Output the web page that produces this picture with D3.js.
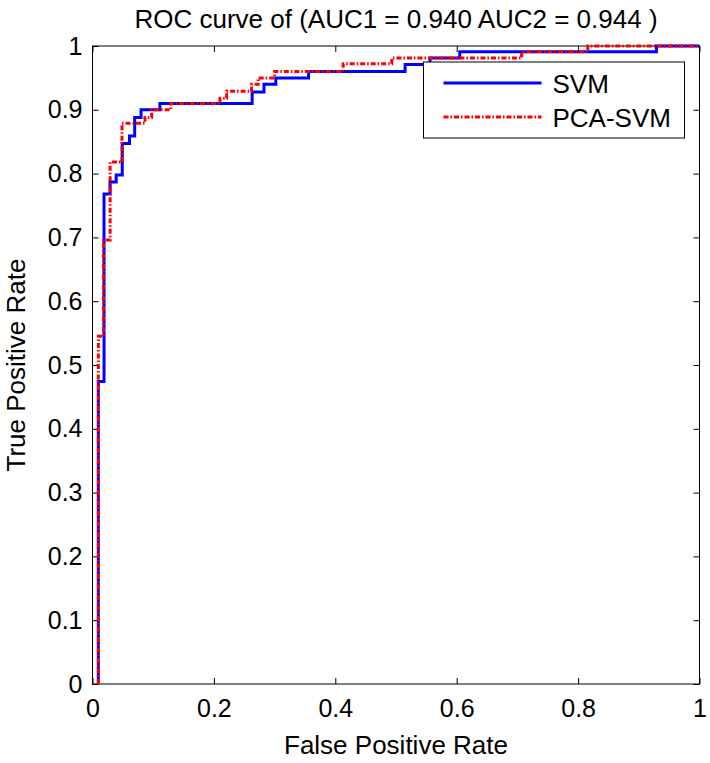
<!DOCTYPE html>
<html>
<head>
<meta charset="utf-8">
<script src="https://cdn.jsdelivr.net/npm/d3@7"></script>
<style>
  body { margin: 0; background: #fff; }
  text { font-family: "Liberation Sans", Arial, sans-serif; fill: #000; }
</style>
</head>
<body>
<svg id="chart" width="710" height="763"></svg>
<script>
// ROC step corners (fpr, tpr)
const svmFpr = [0.0096, 0.0096, 0.019, 0.029, 0.039, 0.049, 0.061, 0.0695, 0.080, 0.111, 0.263, 0.2825, 0.302, 0.356, 0.515, 0.556, 0.605, 0.929, 1];
const svmTpr = [0, 0.474, 0.768, 0.787, 0.798, 0.847, 0.859, 0.888, 0.900, 0.910, 0.928, 0.940, 0.950, 0.960, 0.971, 0.981, 0.991, 1, 1];
const pcaFpr = [0.0096, 0.0096, 0.018, 0.029, 0.0486, 0.0865, 0.0975, 0.129, 0.210, 0.221, 0.262, 0.273, 0.300, 0.413, 0.493, 0.707, 0.816, 1];
const pcaTpr = [0, 0.545, 0.696, 0.818, 0.879, 0.888, 0.900, 0.910, 0.918, 0.929, 0.940, 0.950, 0.960, 0.972, 0.981, 0.991, 1, 1];

const xTicks = [0, 0.2, 0.4, 0.6, 0.8, 1];
const yTicks = [0, 0.1, 0.2, 0.3, 0.4, 0.5, 0.6, 0.7, 0.8, 0.9, 1];
const seriesNames = ["SVM", "PCA-SVM"];
const titleText = "ROC curve of (AUC1 = 0.940 AUC2 = 0.944 )";

const margin = {top: 46, right: 10.5, bottom: 79, left: 92.5};
const width = 710 - margin.left - margin.right;
const height = 763 - margin.top - margin.bottom;
const fontSize = 26;
const tickFont = 25;
const redDash = "5,2,1.5,2";

const svg = d3.select("#chart");
const g = svg.append("g").attr("transform", `translate(${margin.left},${margin.top})`);

const x = d3.scaleLinear().domain([0, 1]).range([0, width]);
const y = d3.scaleLinear().domain([0, 1]).range([height, 0]);
const fmt = d => d3.format("")(+d.toFixed(1));

// axes with inward ticks on all four sides
const styleAxis = sel => {
  sel.select(".domain").remove();
  sel.selectAll(".tick line").attr("stroke", "#000");
  sel.selectAll("text").style("font-size", tickFont + "px").attr("fill", "#000");
};
g.append("g").attr("transform", `translate(0,${height})`)
  .call(d3.axisBottom(x).tickValues(xTicks).tickSize(-6).tickPadding(15).tickFormat(fmt))
  .call(styleAxis);
g.append("g")
  .call(d3.axisTop(x).tickValues(xTicks).tickSize(-6).tickFormat(""))
  .call(styleAxis);
g.append("g")
  .call(d3.axisLeft(y).tickValues(yTicks).tickSize(-6).tickPadding(10).tickFormat(fmt))
  .call(styleAxis);
g.append("g").attr("transform", `translate(${width},0)`)
  .call(d3.axisRight(y).tickValues(yTicks).tickSize(-6).tickFormat(""))
  .call(styleAxis);

g.append("rect")
  .attr("width", width).attr("height", height)
  .attr("fill", "none").attr("stroke", "#000").attr("stroke-width", 1);

// curves
const line = d3.line().x(d => x(d[0])).y(d => y(d[1])).curve(d3.curveStepAfter);
const svmPts = d3.zip(svmFpr, svmTpr);
const pcaPts = d3.zip(pcaFpr, pcaTpr);

g.append("path").datum(svmPts)
  .attr("d", line).attr("fill", "none")
  .attr("stroke", "#0000ff").attr("stroke-width", 3);
g.append("path").datum(pcaPts)
  .attr("d", line).attr("fill", "none")
  .attr("stroke", "#ff0000").attr("stroke-width", 3)
  .attr("stroke-dasharray", redDash);

// legend
const legend = g.append("g").attr("transform", `translate(${x(1) - 276},16)`);
legend.append("rect")
  .attr("width", 261).attr("height", 76)
  .attr("fill", "#fff").attr("stroke", "#000").attr("stroke-width", 1);
const styles = [{c: "#0000ff", dash: null}, {c: "#ff0000", dash: redDash}];
seriesNames.forEach((name, i) => {
  const ly = 21 + i * 34;
  legend.append("line")
    .attr("x1", 20).attr("x2", 118).attr("y1", ly).attr("y2", ly)
    .attr("stroke", styles[i].c).attr("stroke-width", 3)
    .attr("stroke-dasharray", styles[i].dash);
  legend.append("text")
    .attr("x", 129).attr("y", ly).attr("dy", "0.38em")
    .style("font-size", fontSize + "px").text(name);
});

// title and axis labels
svg.append("text")
  .attr("x", margin.left + width / 2).attr("y", 28)
  .attr("text-anchor", "middle").style("font-size", fontSize + "px")
  .text(titleText);
svg.append("text")
  .attr("x", margin.left + width / 2).attr("y", 754)
  .attr("text-anchor", "middle").style("font-size", fontSize + "px")
  .text("False Positive Rate");
svg.append("text")
  .attr("transform", `translate(25,${margin.top + height / 2}) rotate(-90)`)
  .attr("text-anchor", "middle").style("font-size", fontSize + "px")
  .text("True Positive Rate");
</script>
</body>
</html>
